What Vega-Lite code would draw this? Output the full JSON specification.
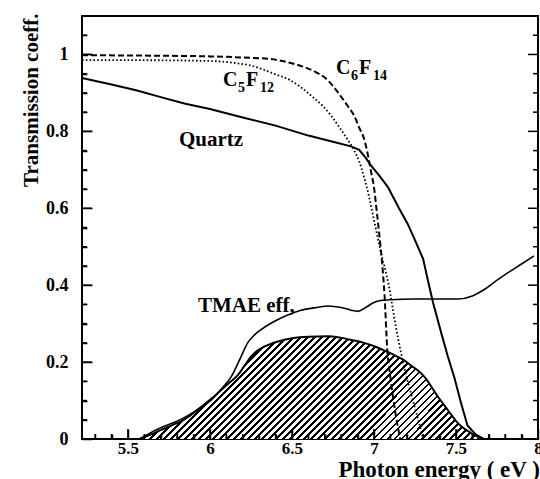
{
  "$schema": "https://vega.github.io/schema/vega-lite/v6.json",
  "width": 456,
  "height": 423,
  "autosize": {"type": "none"},
  "padding": {"left": 82, "top": 16, "right": 2, "bottom": 40},
  "background": "white",
  "config": {
    "view": {"stroke": "#000", "strokeWidth": 2},
    "font": "Liberation Serif",
    "axis": {
      "domain": false, "grid": false, "zindex": 2,
      "tickColor": "#000", "tickWidth": 1.5, "tickOpacity": 1,
      "labelColor": "#000", "labelFont": "Liberation Serif", "labelFontWeight": "bold", "labelFontSize": 18,
      "titleFont": "Liberation Serif", "titleFontWeight": "bold", "titleColor": "#000",
      "labelOverlap": false, "labelFlush": false, "labelBound": false
    },
    "text": {"font": "Liberation Serif", "fontWeight": "bold", "color": "#000"}
  },
  "datasets": {
    "quartz": [
      {"e": 5.22, "t": 0.939}, {"e": 5.4, "t": 0.922}, {"e": 5.55, "t": 0.907}, {"e": 5.7, "t": 0.889},
      {"e": 5.85, "t": 0.872}, {"e": 6.0, "t": 0.858}, {"e": 6.2, "t": 0.836}, {"e": 6.4, "t": 0.815},
      {"e": 6.6, "t": 0.789}, {"e": 6.75, "t": 0.773}, {"e": 6.86, "t": 0.761}, {"e": 6.91, "t": 0.752},
      {"e": 6.95, "t": 0.731}, {"e": 6.98, "t": 0.712}, {"e": 7.03, "t": 0.686}, {"e": 7.085, "t": 0.655},
      {"e": 7.15, "t": 0.602}, {"e": 7.205, "t": 0.56}, {"e": 7.25, "t": 0.517}, {"e": 7.3, "t": 0.468},
      {"e": 7.33, "t": 0.41}, {"e": 7.36, "t": 0.355}, {"e": 7.41, "t": 0.276}, {"e": 7.45, "t": 0.215},
      {"e": 7.49, "t": 0.16}, {"e": 7.53, "t": 0.095}, {"e": 7.57, "t": 0.035}, {"e": 7.62, "t": 0.012},
      {"e": 7.67, "t": 0.0}
    ],
    "c6f14": [
      {"e": 5.22, "t": 0.998}, {"e": 5.6, "t": 0.997}, {"e": 6.0, "t": 0.995}, {"e": 6.2, "t": 0.992},
      {"e": 6.37, "t": 0.988}, {"e": 6.47, "t": 0.98}, {"e": 6.57, "t": 0.968}, {"e": 6.65, "t": 0.953},
      {"e": 6.7, "t": 0.94}, {"e": 6.75, "t": 0.918}, {"e": 6.8, "t": 0.89}, {"e": 6.84, "t": 0.866},
      {"e": 6.88, "t": 0.84}, {"e": 6.91, "t": 0.81}, {"e": 6.94, "t": 0.78}, {"e": 6.96, "t": 0.745},
      {"e": 6.98, "t": 0.7}, {"e": 7.0, "t": 0.655}, {"e": 7.02, "t": 0.58}, {"e": 7.04, "t": 0.5},
      {"e": 7.055, "t": 0.43}, {"e": 7.065, "t": 0.37}, {"e": 7.08, "t": 0.24}, {"e": 7.1, "t": 0.16},
      {"e": 7.13, "t": 0.07}, {"e": 7.16, "t": 0.0}
    ],
    "c5f12": [
      {"e": 5.22, "t": 0.985}, {"e": 5.6, "t": 0.985}, {"e": 6.0, "t": 0.983}, {"e": 6.15, "t": 0.978},
      {"e": 6.26, "t": 0.97}, {"e": 6.33, "t": 0.96}, {"e": 6.4, "t": 0.948}, {"e": 6.49, "t": 0.933},
      {"e": 6.56, "t": 0.913}, {"e": 6.63, "t": 0.888}, {"e": 6.69, "t": 0.865}, {"e": 6.74, "t": 0.84},
      {"e": 6.79, "t": 0.81}, {"e": 6.84, "t": 0.778}, {"e": 6.88, "t": 0.75}, {"e": 6.91, "t": 0.722},
      {"e": 6.94, "t": 0.68}, {"e": 6.97, "t": 0.63}, {"e": 7.0, "t": 0.57}, {"e": 7.04, "t": 0.49},
      {"e": 7.09, "t": 0.4}, {"e": 7.13, "t": 0.3}, {"e": 7.165, "t": 0.224}, {"e": 7.2, "t": 0.16},
      {"e": 7.225, "t": 0.12}, {"e": 7.25, "t": 0.08}, {"e": 7.27, "t": 0.05}, {"e": 7.3, "t": 0.0}
    ],
    "tmae": [
      {"e": 5.57, "t": 0.0}, {"e": 5.62, "t": 0.012}, {"e": 5.7, "t": 0.029}, {"e": 5.78, "t": 0.043},
      {"e": 5.84, "t": 0.055}, {"e": 5.92, "t": 0.075}, {"e": 6.01, "t": 0.102}, {"e": 6.08, "t": 0.135},
      {"e": 6.13, "t": 0.162}, {"e": 6.18, "t": 0.205}, {"e": 6.23, "t": 0.25}, {"e": 6.27, "t": 0.27},
      {"e": 6.31, "t": 0.284}, {"e": 6.38, "t": 0.303}, {"e": 6.45, "t": 0.318}, {"e": 6.55, "t": 0.334},
      {"e": 6.65, "t": 0.342}, {"e": 6.72, "t": 0.346}, {"e": 6.8, "t": 0.342}, {"e": 6.86, "t": 0.335},
      {"e": 6.9, "t": 0.332}, {"e": 6.95, "t": 0.342}, {"e": 7.0, "t": 0.355}, {"e": 7.04, "t": 0.36},
      {"e": 7.1, "t": 0.362}, {"e": 7.25, "t": 0.364}, {"e": 7.4, "t": 0.364}, {"e": 7.51, "t": 0.364},
      {"e": 7.6, "t": 0.372}, {"e": 7.67, "t": 0.388}, {"e": 7.74, "t": 0.41}, {"e": 7.815, "t": 0.432},
      {"e": 7.9, "t": 0.455}, {"e": 7.975, "t": 0.476}
    ],
    "product": [
      {"e": 5.57, "t": 0.0}, {"e": 5.62, "t": 0.008}, {"e": 5.7, "t": 0.023}, {"e": 5.78, "t": 0.038},
      {"e": 5.84, "t": 0.05}, {"e": 5.9, "t": 0.068}, {"e": 5.96, "t": 0.088}, {"e": 6.01, "t": 0.105},
      {"e": 6.07, "t": 0.128}, {"e": 6.12, "t": 0.147}, {"e": 6.17, "t": 0.166}, {"e": 6.21, "t": 0.19},
      {"e": 6.25, "t": 0.214}, {"e": 6.29, "t": 0.23}, {"e": 6.33, "t": 0.24}, {"e": 6.41, "t": 0.253},
      {"e": 6.5, "t": 0.262}, {"e": 6.6, "t": 0.266}, {"e": 6.72, "t": 0.267}, {"e": 6.8, "t": 0.263},
      {"e": 6.87, "t": 0.257}, {"e": 6.94, "t": 0.25}, {"e": 7.01, "t": 0.24}, {"e": 7.08, "t": 0.227},
      {"e": 7.13, "t": 0.217}, {"e": 7.18, "t": 0.206}, {"e": 7.23, "t": 0.19}, {"e": 7.285, "t": 0.172},
      {"e": 7.32, "t": 0.155}, {"e": 7.35, "t": 0.136}, {"e": 7.39, "t": 0.11}, {"e": 7.43, "t": 0.087},
      {"e": 7.47, "t": 0.064}, {"e": 7.51, "t": 0.042}, {"e": 7.55, "t": 0.027}, {"e": 7.59, "t": 0.016},
      {"e": 7.63, "t": 0.006}, {"e": 7.67, "t": 0.0}
    ],
    "names": [
      {"e": 5.811, "t": 0.763, "label": "Quartz"},
      {"e": 5.927, "t": 0.331, "label": "TMAE eff,"}
    ],
    "formulas": [
      {"e": 6.079, "t": 0.917, "a": "C", "n1": "5", "b": "F", "n2": "12"},
      {"e": 6.768, "t": 0.948, "a": "C", "n1": "6", "b": "F", "n2": "14"}
    ],
    "bottom_major": [
      {"e": 5.5, "t": 0}, {"e": 6, "t": 0}, {"e": 6.5, "t": 0}, {"e": 7, "t": 0}, {"e": 7.5, "t": 0}
    ],
    "bottom_minor": [
      {"e": 5.3, "t": 0}, {"e": 5.4, "t": 0}, {"e": 5.6, "t": 0}, {"e": 5.7, "t": 0}, {"e": 5.8, "t": 0}, {"e": 5.9, "t": 0},
      {"e": 6.1, "t": 0}, {"e": 6.2, "t": 0}, {"e": 6.3, "t": 0}, {"e": 6.4, "t": 0}, {"e": 6.6, "t": 0}, {"e": 6.7, "t": 0},
      {"e": 6.8, "t": 0}, {"e": 6.9, "t": 0}, {"e": 7.1, "t": 0}, {"e": 7.2, "t": 0}, {"e": 7.3, "t": 0}, {"e": 7.4, "t": 0},
      {"e": 7.6, "t": 0}, {"e": 7.7, "t": 0}, {"e": 7.8, "t": 0}, {"e": 7.9, "t": 0}
    ],
    "left_major": [
      {"e": 5.22, "t": 0.2}, {"e": 5.22, "t": 0.4}, {"e": 5.22, "t": 0.6}, {"e": 5.22, "t": 0.8}, {"e": 5.22, "t": 1}
    ],
    "left_minor": [
      {"e": 5.22, "t": 0.05}, {"e": 5.22, "t": 0.1}, {"e": 5.22, "t": 0.15}, {"e": 5.22, "t": 0.25}, {"e": 5.22, "t": 0.3},
      {"e": 5.22, "t": 0.35}, {"e": 5.22, "t": 0.45}, {"e": 5.22, "t": 0.5}, {"e": 5.22, "t": 0.55}, {"e": 5.22, "t": 0.65},
      {"e": 5.22, "t": 0.7}, {"e": 5.22, "t": 0.75}, {"e": 5.22, "t": 0.85}, {"e": 5.22, "t": 0.9}, {"e": 5.22, "t": 0.95},
      {"e": 5.22, "t": 1.05}
    ],
    "right_major": [
      {"e": 8, "t": 0.2}, {"e": 8, "t": 0.4}, {"e": 8, "t": 0.6}, {"e": 8, "t": 0.8}, {"e": 8, "t": 1}
    ],
    "right_minor": [
      {"e": 8, "t": 0.05}, {"e": 8, "t": 0.1}, {"e": 8, "t": 0.15}, {"e": 8, "t": 0.25}, {"e": 8, "t": 0.3},
      {"e": 8, "t": 0.35}, {"e": 8, "t": 0.45}, {"e": 8, "t": 0.5}, {"e": 8, "t": 0.55}, {"e": 8, "t": 0.65},
      {"e": 8, "t": 0.7}, {"e": 8, "t": 0.75}, {"e": 8, "t": 0.85}, {"e": 8, "t": 0.9}, {"e": 8, "t": 0.95},
      {"e": 8, "t": 1.05}
    ]
  },
  "encoding": {
    "x": {
      "field": "e", "type": "quantitative",
      "scale": {"domain": [5.22, 8], "nice": false, "zero": false},
      "axis": {
        "orient": "bottom",
        "zindex": 2,
        "values": [5.3, 5.4, 5.5, 5.6, 5.7, 5.8, 5.9, 6, 6.1, 6.2, 6.3, 6.4, 6.5, 6.6, 6.7, 6.8, 6.9, 7, 7.1, 7.2, 7.3, 7.4, 7.5, 7.6, 7.7, 7.8, 7.9, 8],
        "format": ".1~f",
        "labelExpr": "abs(datum.value * 2 - round(datum.value * 2)) < 0.001 ? datum.label : ''",
        "labelFontSize": 17,
        "tickSize": -10,
        "tickDash": {"condition": {"test": "abs(datum.value * 2 - round(datum.value * 2)) < 0.001", "value": [10, 0]}, "value": [5, 10]},
        "labelPadding": 11,
        "title": "Photon energy ( eV )",
        "titleFontSize": 23,
        "titleAlign": "left",
        "titleBaseline": "alphabetic",
        "titleX": 256,
        "titleY": 37
      }
    },
    "y": {
      "field": "t", "type": "quantitative",
      "scale": {"domain": [0, 1.1], "nice": false},
      "axis": {
        "orient": "left",
        "zindex": 2,
        "values": [0, 0.05, 0.1, 0.15, 0.2, 0.25, 0.3, 0.35, 0.4, 0.45, 0.5, 0.55, 0.6, 0.65, 0.7, 0.75, 0.8, 0.85, 0.9, 0.95, 1, 1.05],
        "format": ".1~f",
        "labelExpr": "abs(datum.value * 5 - round(datum.value * 5)) < 0.001 ? datum.label : ''",
        "tickSize": -10,
        "tickDash": {"condition": {"test": "abs(datum.value * 5 - round(datum.value * 5)) < 0.001", "value": [10, 0]}, "value": [5, 10]},
        "labelPadding": 24,
        "title": "Transmission coeff.",
        "titleFontSize": 21,
        "titleAngle": -90,
        "titleAlign": "right",
        "titleBaseline": "alphabetic",
        "titleX": -45,
        "titleY": -3
      }
    }
  },
  "layer": [
    {
      "data": {"name": "product"},
      "mark": {
        "type": "area",
        "interpolate": "monotone",
        "fill": {
          "gradient": "linear", "x1": 0, "y1": 0, "x2": 1.192, "y2": 0.355,
          "stops": [
            {"offset": 0, "color": "#000"}, {"offset": 0.0065, "color": "#000"}, {"offset": 0.0065, "color": "#fff"}, {"offset": 0.015625, "color": "#fff"},
            {"offset": 0.015625, "color": "#000"}, {"offset": 0.022125, "color": "#000"}, {"offset": 0.022125, "color": "#fff"}, {"offset": 0.03125, "color": "#fff"},
            {"offset": 0.03125, "color": "#000"}, {"offset": 0.03775, "color": "#000"}, {"offset": 0.03775, "color": "#fff"}, {"offset": 0.046875, "color": "#fff"},
            {"offset": 0.046875, "color": "#000"}, {"offset": 0.053375, "color": "#000"}, {"offset": 0.053375, "color": "#fff"}, {"offset": 0.0625, "color": "#fff"},
            {"offset": 0.0625, "color": "#000"}, {"offset": 0.069, "color": "#000"}, {"offset": 0.069, "color": "#fff"}, {"offset": 0.078125, "color": "#fff"},
            {"offset": 0.078125, "color": "#000"}, {"offset": 0.084625, "color": "#000"}, {"offset": 0.084625, "color": "#fff"}, {"offset": 0.09375, "color": "#fff"},
            {"offset": 0.09375, "color": "#000"}, {"offset": 0.10025, "color": "#000"}, {"offset": 0.10025, "color": "#fff"}, {"offset": 0.109375, "color": "#fff"},
            {"offset": 0.109375, "color": "#000"}, {"offset": 0.115875, "color": "#000"}, {"offset": 0.115875, "color": "#fff"}, {"offset": 0.125, "color": "#fff"},
            {"offset": 0.125, "color": "#000"}, {"offset": 0.1315, "color": "#000"}, {"offset": 0.1315, "color": "#fff"}, {"offset": 0.140625, "color": "#fff"},
            {"offset": 0.140625, "color": "#000"}, {"offset": 0.147125, "color": "#000"}, {"offset": 0.147125, "color": "#fff"}, {"offset": 0.15625, "color": "#fff"},
            {"offset": 0.15625, "color": "#000"}, {"offset": 0.16275, "color": "#000"}, {"offset": 0.16275, "color": "#fff"}, {"offset": 0.171875, "color": "#fff"},
            {"offset": 0.171875, "color": "#000"}, {"offset": 0.178375, "color": "#000"}, {"offset": 0.178375, "color": "#fff"}, {"offset": 0.1875, "color": "#fff"},
            {"offset": 0.1875, "color": "#000"}, {"offset": 0.194, "color": "#000"}, {"offset": 0.194, "color": "#fff"}, {"offset": 0.203125, "color": "#fff"},
            {"offset": 0.203125, "color": "#000"}, {"offset": 0.209625, "color": "#000"}, {"offset": 0.209625, "color": "#fff"}, {"offset": 0.21875, "color": "#fff"},
            {"offset": 0.21875, "color": "#000"}, {"offset": 0.22525, "color": "#000"}, {"offset": 0.22525, "color": "#fff"}, {"offset": 0.234375, "color": "#fff"},
            {"offset": 0.234375, "color": "#000"}, {"offset": 0.240875, "color": "#000"}, {"offset": 0.240875, "color": "#fff"}, {"offset": 0.25, "color": "#fff"},
            {"offset": 0.25, "color": "#000"}, {"offset": 0.2565, "color": "#000"}, {"offset": 0.2565, "color": "#fff"}, {"offset": 0.265625, "color": "#fff"},
            {"offset": 0.265625, "color": "#000"}, {"offset": 0.272125, "color": "#000"}, {"offset": 0.272125, "color": "#fff"}, {"offset": 0.28125, "color": "#fff"},
            {"offset": 0.28125, "color": "#000"}, {"offset": 0.28775, "color": "#000"}, {"offset": 0.28775, "color": "#fff"}, {"offset": 0.296875, "color": "#fff"},
            {"offset": 0.296875, "color": "#000"}, {"offset": 0.303375, "color": "#000"}, {"offset": 0.303375, "color": "#fff"}, {"offset": 0.3125, "color": "#fff"},
            {"offset": 0.3125, "color": "#000"}, {"offset": 0.319, "color": "#000"}, {"offset": 0.319, "color": "#fff"}, {"offset": 0.328125, "color": "#fff"},
            {"offset": 0.328125, "color": "#000"}, {"offset": 0.334625, "color": "#000"}, {"offset": 0.334625, "color": "#fff"}, {"offset": 0.34375, "color": "#fff"},
            {"offset": 0.34375, "color": "#000"}, {"offset": 0.35025, "color": "#000"}, {"offset": 0.35025, "color": "#fff"}, {"offset": 0.359375, "color": "#fff"},
            {"offset": 0.359375, "color": "#000"}, {"offset": 0.365875, "color": "#000"}, {"offset": 0.365875, "color": "#fff"}, {"offset": 0.375, "color": "#fff"},
            {"offset": 0.375, "color": "#000"}, {"offset": 0.3815, "color": "#000"}, {"offset": 0.3815, "color": "#fff"}, {"offset": 0.390625, "color": "#fff"},
            {"offset": 0.390625, "color": "#000"}, {"offset": 0.397125, "color": "#000"}, {"offset": 0.397125, "color": "#fff"}, {"offset": 0.40625, "color": "#fff"},
            {"offset": 0.40625, "color": "#000"}, {"offset": 0.41275, "color": "#000"}, {"offset": 0.41275, "color": "#fff"}, {"offset": 0.421875, "color": "#fff"},
            {"offset": 0.421875, "color": "#000"}, {"offset": 0.428375, "color": "#000"}, {"offset": 0.428375, "color": "#fff"}, {"offset": 0.4375, "color": "#fff"},
            {"offset": 0.4375, "color": "#000"}, {"offset": 0.444, "color": "#000"}, {"offset": 0.444, "color": "#fff"}, {"offset": 0.453125, "color": "#fff"},
            {"offset": 0.453125, "color": "#000"}, {"offset": 0.459625, "color": "#000"}, {"offset": 0.459625, "color": "#fff"}, {"offset": 0.46875, "color": "#fff"},
            {"offset": 0.46875, "color": "#000"}, {"offset": 0.47525, "color": "#000"}, {"offset": 0.47525, "color": "#fff"}, {"offset": 0.484375, "color": "#fff"},
            {"offset": 0.484375, "color": "#000"}, {"offset": 0.490875, "color": "#000"}, {"offset": 0.490875, "color": "#fff"}, {"offset": 0.5, "color": "#fff"},
            {"offset": 0.5, "color": "#000"}, {"offset": 0.5065, "color": "#000"}, {"offset": 0.5065, "color": "#fff"}, {"offset": 0.515625, "color": "#fff"},
            {"offset": 0.515625, "color": "#000"}, {"offset": 0.522125, "color": "#000"}, {"offset": 0.522125, "color": "#fff"}, {"offset": 0.53125, "color": "#fff"},
            {"offset": 0.53125, "color": "#000"}, {"offset": 0.53775, "color": "#000"}, {"offset": 0.53775, "color": "#fff"}, {"offset": 0.546875, "color": "#fff"},
            {"offset": 0.546875, "color": "#000"}, {"offset": 0.553375, "color": "#000"}, {"offset": 0.553375, "color": "#fff"}, {"offset": 0.5625, "color": "#fff"},
            {"offset": 0.5625, "color": "#000"}, {"offset": 0.569, "color": "#000"}, {"offset": 0.569, "color": "#fff"}, {"offset": 0.578125, "color": "#fff"},
            {"offset": 0.578125, "color": "#000"}, {"offset": 0.584625, "color": "#000"}, {"offset": 0.584625, "color": "#fff"}, {"offset": 0.59375, "color": "#fff"},
            {"offset": 0.59375, "color": "#000"}, {"offset": 0.60025, "color": "#000"}, {"offset": 0.60025, "color": "#fff"}, {"offset": 0.609375, "color": "#fff"},
            {"offset": 0.609375, "color": "#000"}, {"offset": 0.615875, "color": "#000"}, {"offset": 0.615875, "color": "#fff"}, {"offset": 0.625, "color": "#fff"},
            {"offset": 0.625, "color": "#000"}, {"offset": 0.6315, "color": "#000"}, {"offset": 0.6315, "color": "#fff"}, {"offset": 0.640625, "color": "#fff"},
            {"offset": 0.640625, "color": "#000"}, {"offset": 0.647125, "color": "#000"}, {"offset": 0.647125, "color": "#fff"}, {"offset": 0.65625, "color": "#fff"},
            {"offset": 0.65625, "color": "#000"}, {"offset": 0.66275, "color": "#000"}, {"offset": 0.66275, "color": "#fff"}, {"offset": 0.671875, "color": "#fff"},
            {"offset": 0.671875, "color": "#000"}, {"offset": 0.678375, "color": "#000"}, {"offset": 0.678375, "color": "#fff"}, {"offset": 0.6875, "color": "#fff"},
            {"offset": 0.6875, "color": "#000"}, {"offset": 0.694, "color": "#000"}, {"offset": 0.694, "color": "#fff"}, {"offset": 0.703125, "color": "#fff"},
            {"offset": 0.703125, "color": "#000"}, {"offset": 0.709625, "color": "#000"}, {"offset": 0.709625, "color": "#fff"}, {"offset": 0.71875, "color": "#fff"},
            {"offset": 0.71875, "color": "#000"}, {"offset": 0.72525, "color": "#000"}, {"offset": 0.72525, "color": "#fff"}, {"offset": 0.734375, "color": "#fff"},
            {"offset": 0.734375, "color": "#000"}, {"offset": 0.740875, "color": "#000"}, {"offset": 0.740875, "color": "#fff"}, {"offset": 0.75, "color": "#fff"},
            {"offset": 0.75, "color": "#000"}, {"offset": 0.7565, "color": "#000"}, {"offset": 0.7565, "color": "#fff"}, {"offset": 0.765625, "color": "#fff"},
            {"offset": 0.765625, "color": "#000"}, {"offset": 0.772125, "color": "#000"}, {"offset": 0.772125, "color": "#fff"}, {"offset": 0.78125, "color": "#fff"},
            {"offset": 0.78125, "color": "#000"}, {"offset": 0.78775, "color": "#000"}, {"offset": 0.78775, "color": "#fff"}, {"offset": 0.796875, "color": "#fff"},
            {"offset": 0.796875, "color": "#000"}, {"offset": 0.803375, "color": "#000"}, {"offset": 0.803375, "color": "#fff"}, {"offset": 0.8125, "color": "#fff"},
            {"offset": 0.8125, "color": "#000"}, {"offset": 0.819, "color": "#000"}, {"offset": 0.819, "color": "#fff"}, {"offset": 0.828125, "color": "#fff"},
            {"offset": 0.828125, "color": "#000"}, {"offset": 0.834625, "color": "#000"}, {"offset": 0.834625, "color": "#fff"}, {"offset": 0.84375, "color": "#fff"},
            {"offset": 0.84375, "color": "#000"}, {"offset": 0.85025, "color": "#000"}, {"offset": 0.85025, "color": "#fff"}, {"offset": 0.859375, "color": "#fff"},
            {"offset": 0.859375, "color": "#000"}, {"offset": 0.865875, "color": "#000"}, {"offset": 0.865875, "color": "#fff"}, {"offset": 0.875, "color": "#fff"},
            {"offset": 0.875, "color": "#000"}, {"offset": 0.8815, "color": "#000"}, {"offset": 0.8815, "color": "#fff"}, {"offset": 0.890625, "color": "#fff"},
            {"offset": 0.890625, "color": "#000"}, {"offset": 0.897125, "color": "#000"}, {"offset": 0.897125, "color": "#fff"}, {"offset": 0.90625, "color": "#fff"},
            {"offset": 0.90625, "color": "#000"}, {"offset": 0.91275, "color": "#000"}, {"offset": 0.91275, "color": "#fff"}, {"offset": 0.921875, "color": "#fff"},
            {"offset": 0.921875, "color": "#000"}, {"offset": 0.928375, "color": "#000"}, {"offset": 0.928375, "color": "#fff"}, {"offset": 0.9375, "color": "#fff"},
            {"offset": 0.9375, "color": "#000"}, {"offset": 0.944, "color": "#000"}, {"offset": 0.944, "color": "#fff"}, {"offset": 0.953125, "color": "#fff"},
            {"offset": 0.953125, "color": "#000"}, {"offset": 0.959625, "color": "#000"}, {"offset": 0.959625, "color": "#fff"}, {"offset": 0.96875, "color": "#fff"},
            {"offset": 0.96875, "color": "#000"}, {"offset": 0.97525, "color": "#000"}, {"offset": 0.97525, "color": "#fff"}, {"offset": 0.984375, "color": "#fff"},
            {"offset": 0.984375, "color": "#000"}, {"offset": 0.990875, "color": "#000"}, {"offset": 0.990875, "color": "#fff"}, {"offset": 1, "color": "#fff"}
          ]
        }
      }
    },
    {
      "data": {"name": "product"},
      "mark": {"type": "line", "interpolate": "monotone", "stroke": "#000", "strokeWidth": 2}
    },
    {
      "data": {"name": "tmae"},
      "mark": {"type": "line", "interpolate": "monotone", "stroke": "#000", "strokeWidth": 1.6}
    },
    {
      "data": {"name": "quartz"},
      "mark": {"type": "line", "stroke": "#000", "strokeWidth": 2}
    },
    {
      "data": {"name": "c6f14"},
      "mark": {"type": "line", "interpolate": "monotone", "stroke": "#000", "strokeWidth": 2, "strokeDash": [6, 3]}
    },
    {
      "data": {"name": "c5f12"},
      "mark": {"type": "line", "interpolate": "monotone", "stroke": "#000", "strokeWidth": 1.8, "strokeDash": [1.6, 2.2]}
    },
    {
      "data": {"name": "bottom_major"},
      "mark": {"type": "rule", "stroke": "#000", "strokeWidth": 1.5},
      "encoding": {"y2": {"datum": 0.026}}
    },
    {
      "data": {"name": "bottom_minor"},
      "mark": {"type": "rule", "stroke": "#000", "strokeWidth": 1.5},
      "encoding": {"y2": {"datum": 0.013}}
    },
    {
      "data": {"name": "left_major"},
      "mark": {"type": "rule", "stroke": "#000", "strokeWidth": 1.5},
      "encoding": {"x2": {"datum": 5.281}}
    },
    {
      "data": {"name": "left_minor"},
      "mark": {"type": "rule", "stroke": "#000", "strokeWidth": 1.5},
      "encoding": {"x2": {"datum": 5.2505}}
    },
    {
      "data": {"name": "right_major"},
      "mark": {"type": "rule", "stroke": "#000", "strokeWidth": 1.5},
      "encoding": {"x2": {"datum": 7.939}}
    },
    {
      "data": {"name": "right_minor"},
      "mark": {"type": "rule", "stroke": "#000", "strokeWidth": 1.5},
      "encoding": {"x2": {"datum": 7.9695}}
    },
    {
      "data": {"name": "names"},
      "mark": {"type": "text", "align": "left", "baseline": "alphabetic", "fontSize": 21},
      "encoding": {"text": {"field": "label"}}
    },
    {
      "data": {"name": "formulas"},
      "mark": {"type": "text", "align": "left", "baseline": "alphabetic", "fontSize": 20},
      "encoding": {"text": {"field": "a"}}
    },
    {
      "data": {"name": "formulas"},
      "mark": {"type": "text", "align": "left", "baseline": "alphabetic", "fontSize": 14, "dx": 15, "dy": 6},
      "encoding": {"text": {"field": "n1"}}
    },
    {
      "data": {"name": "formulas"},
      "mark": {"type": "text", "align": "left", "baseline": "alphabetic", "fontSize": 20, "dx": 23},
      "encoding": {"text": {"field": "b"}}
    },
    {
      "data": {"name": "formulas"},
      "mark": {"type": "text", "align": "left", "baseline": "alphabetic", "fontSize": 14, "dx": 37, "dy": 6},
      "encoding": {"text": {"field": "n2"}}
    }
  ]
}
